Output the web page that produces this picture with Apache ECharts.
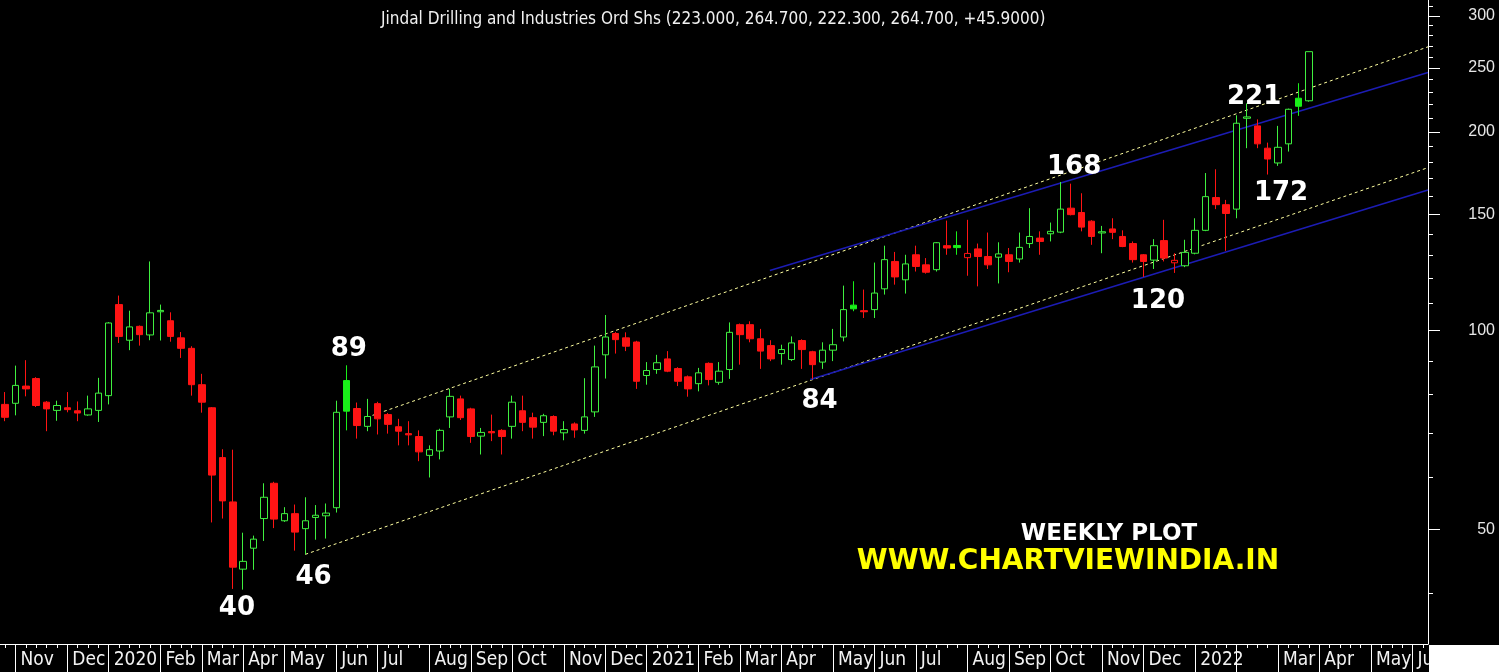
<!DOCTYPE html>
<html>
<head>
<meta charset="utf-8">
<script src="https://cdn.jsdelivr.net/npm/echarts@6/dist/echarts.min.js"></script>
<style>
  html, body { margin: 0; padding: 0; background: #000; }
  #chart { width: 1499px; height: 672px; }
</style>
</head>
<body>
<div id="chart"></div>
<script>
// ---- Data (weekly candles, Fridays) ----
const dates = [
 '2019-10-25','2019-11-01','2019-11-08','2019-11-15','2019-11-22','2019-11-29','2019-12-06','2019-12-13','2019-12-20','2019-12-27',
 '2020-01-03','2020-01-10','2020-01-17','2020-01-24','2020-01-31','2020-02-07','2020-02-14','2020-02-21','2020-02-28','2020-03-06',
 '2020-03-13','2020-03-20','2020-03-27','2020-04-03','2020-04-10','2020-04-17','2020-04-24','2020-05-01','2020-05-08','2020-05-15',
 '2020-05-22','2020-05-29','2020-06-05','2020-06-12','2020-06-19','2020-06-26','2020-07-03','2020-07-10','2020-07-17','2020-07-24',
 '2020-07-31','2020-08-07','2020-08-14','2020-08-21','2020-08-28','2020-09-04','2020-09-11','2020-09-18','2020-09-25','2020-10-02',
 '2020-10-09','2020-10-16','2020-10-23','2020-10-30','2020-11-06','2020-11-13','2020-11-20','2020-11-27','2020-12-04','2020-12-11',
 '2020-12-18','2020-12-25','2021-01-01','2021-01-08','2021-01-15','2021-01-22','2021-01-29','2021-02-05','2021-02-12','2021-02-19',
 '2021-02-26','2021-03-05','2021-03-12','2021-03-19','2021-03-26','2021-04-02','2021-04-09','2021-04-16','2021-04-23','2021-04-30',
 '2021-05-07','2021-05-14','2021-05-21','2021-05-28','2021-06-04','2021-06-11','2021-06-18','2021-06-25','2021-07-02','2021-07-09',
 '2021-07-16','2021-07-23','2021-07-30','2021-08-06','2021-08-13','2021-08-20','2021-08-27','2021-09-03','2021-09-10','2021-09-17',
 '2021-09-24','2021-10-01','2021-10-08','2021-10-15','2021-10-22','2021-10-29','2021-11-05','2021-11-12','2021-11-19','2021-11-26',
 '2021-12-03','2021-12-10','2021-12-17','2021-12-24','2021-12-31','2022-01-07','2022-01-14','2022-01-21','2022-01-28','2022-02-04',
 '2022-02-11','2022-02-18','2022-02-25','2022-03-04','2022-03-11','2022-03-18','2022-03-25','2022-04-01','2022-04-08','2022-04-15',
 '2022-04-22','2022-04-29','2022-05-06','2022-05-13','2022-05-20','2022-05-27','2022-06-03','2022-06-10'
];

const opens = [
 77.3,77.6,82.4,84.6,77.9,75.7,76.4,75.6,74.5,75.7,
 79.7,109.5,96.7,101.5,98.5,106.8,103.5,97.5,94.0,82.8,
 76.4,64.2,55.0,43.5,46.8,51.9,58.7,51.5,52.8,50.1,
 52.1,52.4,53.9,84.0,76.2,71.6,77.5,74.6,71.5,69.8,
 69.1,64.7,65.7,74.0,78.8,76.1,69.2,70.3,70.6,71.6,
 75.6,73.8,72.6,74.1,70.0,72.2,70.6,75.3,91.9,99.0,
 97.5,96.1,85.5,87.3,90.6,87.6,85.1,83.1,89.2,83.5,
 87.3,102.1,102.1,97.2,94.9,92.3,90.4,96.6,92.9,89.6,
 93.4,97.8,109.3,107.2,107.6,115.7,127.3,119.4,130.3,125.8,
 123.7,134.5,134.6,129.0,133.0,129.5,129.2,130.3,128.4,135.5,
 138.1,140.2,141.0,153.3,151.0,146.5,140.6,142.6,138.9,135.5,
 130.3,127.9,136.9,126.7,125.4,131.0,141.9,159.1,155.2,152.8,
 209.8,204.3,189.0,179.5,191.9,225.0,223.0
];
const highs = [
 80.7,88.5,90.2,85.0,78.2,78.3,80.7,78.1,79.7,84.8,
 103.0,113.0,107.2,101.8,127.3,109.5,106.6,99.5,94.7,86.0,
 76.6,66.1,66.0,49.4,48.9,58.7,59.0,54.0,54.5,55.9,
 54.4,54.7,78.3,88.6,77.8,78.8,78.0,75.0,73.5,72.9,
 70.6,67.0,71.0,81.6,79.7,76.4,71.2,74.6,70.9,79.7,
 79.7,75.1,74.8,74.4,72.9,72.6,84.7,94.9,105.6,99.5,
 99.4,96.5,89.6,91.9,93.1,88.0,85.5,87.8,89.5,89.6,
 102.9,102.5,103.3,100.6,96.7,95.2,98.0,97.0,93.2,96.0,
 100.6,117.0,118.8,115.4,126.8,134.5,131.6,130.3,134.5,128.8,
 136.2,146.8,141.4,147.2,135.5,140.8,136.1,133.4,140.8,153.3,
 141.4,145.8,168.0,167.0,161.5,147.0,144.1,148.0,141.9,136.5,
 130.6,137.6,147.2,131.0,137.3,148.0,173.3,175.6,157.8,212.0,
 221.0,209.0,192.7,204.3,217.0,237.1,264.7
];
const lows = [
 72.9,74.4,79.5,76.6,70.4,73.0,75.2,72.9,74.3,72.7,
 77.3,95.8,93.4,94.9,96.7,96.6,96.2,90.9,79.7,75.1,
 51.2,51.9,40.6,40.5,43.4,48.0,50.2,51.3,46.4,45.8,
 48.2,48.4,53.0,70.6,68.6,70.4,69.6,69.8,67.0,67.0,
 63.4,59.9,63.8,71.2,73.2,67.6,64.9,68.0,64.9,68.6,
 70.4,68.6,69.2,69.4,68.2,68.8,69.8,74.0,84.6,92.3,
 93.1,81.6,82.8,86.0,86.5,82.4,79.4,80.9,82.6,82.8,
 84.5,88.8,96.0,87.5,89.9,88.8,89.9,87.5,84.5,87.5,
 89.9,96.3,107.0,104.5,104.5,113.4,117.4,113.8,122.9,122.0,
 122.9,130.3,130.3,121.1,116.7,124.0,117.9,122.6,126.8,133.4,
 130.3,136.5,140.5,149.5,141.4,134.9,131.0,137.6,133.8,126.8,
 120.6,124.0,127.3,122.3,124.8,130.5,141.5,152.8,132.1,148.0,
 189.0,189.0,172.4,177.7,186.8,211.6,222.3
];
const closes = [
 73.9,82.6,81.6,77.0,76.1,77.0,75.9,75.0,76.1,80.4,
 102.7,98.0,101.3,98.6,106.4,107.3,98.0,94.0,82.8,77.9,
 60.4,55.2,43.8,44.7,48.3,55.9,51.8,52.8,49.5,51.5,
 52.5,52.9,75.2,75.5,71.8,74.1,73.5,72.1,70.4,69.5,
 65.5,66.0,70.6,79.5,73.8,69.1,70.1,70.0,69.1,77.9,
 72.6,71.4,74.3,70.4,70.8,70.7,74.0,88.1,97.8,96.9,
 94.7,83.8,87.0,89.4,86.8,83.8,81.6,86.3,84.3,86.8,
 99.4,98.6,97.2,93.1,90.6,93.6,95.8,93.6,88.8,93.4,
 95.2,107.6,107.9,106.8,114.0,128.1,120.6,126.2,125.1,122.6,
 135.9,133.4,133.6,130.9,129.5,125.8,130.7,127.3,133.7,138.9,
 136.5,141.4,152.8,149.9,143.5,138.9,141.2,140.9,134.1,128.1,
 127.3,134.5,128.8,127.8,131.4,141.9,159.6,155.2,150.5,206.2,
 210.8,191.9,182.0,189.6,216.5,218.8,264.7
];

// Channel lines: [week index, price] start / end
const upperDotted = [[35.5, 74.4], [137.5, 269.2]];
const upperBlue   = [[73.9, 123.3], [137.5, 246.1]];
const lowerDotted = [[29.0, 45.8], [137.5, 176.6]];
const lowerBlue   = [[77.8, 84.3], [137.5, 163.4]];

// Price annotations: [week index, price, text]
const notes = [
 [33.2, 93.6, '89'], [29.8, 42.3, '46'], [22.4, 38.0, '40'], [78.7, 78.1, '84'],
 [103.3, 177.1, '168'], [111.4, 110.6, '120'], [120.7, 226.0, '221'], [123.3, 161.3, '172']
];

const majorTicks = [50, 100, 150, 200, 250, 300];
const minorTicks = [40, 60, 70, 80, 90, 110, 120, 130, 140, 160, 170, 180, 190,
                    210, 220, 230, 240, 260, 270, 280, 290, 310];
const monthNames = ['Jan','Feb','Mar','Apr','May','Jun','Jul','Aug','Sep','Oct','Nov','Dec'];
const hiddenMonthLabels = ['2022-02-04'];

const titleText = 'Jindal Drilling and Industries Ord Shs (223.000, 264.700, 222.300, 264.700, +45.9000)';
const yMin = 33.5, yMax = 317;

// ---- Build ----
const L = v => Math.log10(v);
const GREEN = '#3ff03f', GREEN_FILL = '#19f019', RED = '#ff1414';

function isMonthStart(i) {
  if (i <= 0) return false;
  return dates[i].slice(0, 7) !== dates[i - 1].slice(0, 7);
}
function monthLabel(i) {
  const m = parseInt(dates[i].slice(5, 7), 10);
  return m === 1 ? dates[i].slice(0, 4) : monthNames[m - 1];
}

const candleData = opens.map((o, i) => {
  const c = closes[i];
  const prev = i > 0 ? closes[i - 1] : Infinity;
  const col = c > prev ? GREEN : RED;
  const hollow = c > o;
  const fill = hollow ? '#000' : (col === GREEN ? GREEN_FILL : RED);
  const border = (!hollow && col === GREEN) ? GREEN_FILL : col;
  return {
    value: [L(o), L(c), L(lows[i]), L(highs[i])],
    itemStyle: { color: fill, color0: fill, borderColor: border, borderColor0: border, borderColorDoji: border }
  };
});

const lineSeries = (pts, color, type, width) => ({
  type: 'line', xAxisIndex: 2, yAxisIndex: 0,
  data: pts.map(p => [p[0], L(p[1])]),
  symbol: 'none', silent: true, clip: true,
  lineStyle: { color: color, width: width, type: type },
  z: 1
});

const chart = echarts.init(document.getElementById('chart'), null, { renderer: 'canvas' });
const axisFont = "'Liberation Sans Narrow', 'DejaVu Sans Condensed', 'Arial Narrow', sans-serif";
const G = { left: 0, right: 71, top: 0, bottom: 28, containLabel: false };

chart.setOption({
  animation: false,
  backgroundColor: '#000',
  title: {
    text: titleText, left: 376, top: 6,
    textStyle: { color: '#f0f0f0', fontFamily: axisFont, fontSize: 17, fontWeight: 'normal' }
  },
  grid: [Object.assign({}, G), Object.assign({}, G)],
  xAxis: [
    {
      type: 'category', data: dates, boundaryGap: true, position: 'bottom', gridIndex: 0,
      axisLine: { show: true, onZero: false, lineStyle: { color: '#fff', width: 1 } },
      axisTick: { show: true, alignWithLabel: true, inside: false, length: 28,
                  interval: (i) => isMonthStart(i), lineStyle: { color: '#fff', width: 1 } },
      axisLabel: {
        show: true, interval: (i) => isMonthStart(i) && hiddenMonthLabels.indexOf(dates[i]) < 0,
        formatter: (v, i) => monthLabel(i),
        color: '#f2f2f2', fontFamily: axisFont, fontSize: 19,
        align: 'left', verticalAlign: 'middle', margin: 16, padding: [0, 0, 0, 5]
      },
      splitLine: { show: false }
    },
    {
      type: 'category', data: dates, boundaryGap: true, position: 'bottom', gridIndex: 1,
      axisLine: { show: false, onZero: false },
      axisTick: { show: true, alignWithLabel: true, length: 4, interval: 0,
                  lineStyle: { color: '#fff', width: 1 } },
      axisLabel: { show: false }, splitLine: { show: false }
    },
    { type: 'value', min: -0.5, max: dates.length - 0.5, show: false, gridIndex: 0, position: 'top',
      axisLine: { onZero: false } }
  ],
  yAxis: [
    {
      type: 'value', position: 'right', gridIndex: 0, min: L(yMin), max: L(yMax), scale: true,
      axisLine: { show: true, onZero: false, lineStyle: { color: '#fff', width: 1 } },
      axisTick: { show: true, inside: false, length: 12, customValues: majorTicks.map(L),
                  lineStyle: { color: '#fff' } },
      axisLabel: {
        show: true, customValues: majorTicks.map(L),
        formatter: v => String(Math.round(Math.pow(10, v))),
        color: '#e6e6e6', fontFamily: "'Liberation Sans', Arial, sans-serif", fontSize: 16,
        align: 'right', margin: 67
      },
      splitLine: { show: false }
    },
    {
      type: 'value', position: 'right', gridIndex: 1, min: L(yMin), max: L(yMax), scale: true,
      axisLine: { show: false, onZero: false },
      axisTick: { show: true, inside: false, length: 5, customValues: minorTicks.map(L),
                  lineStyle: { color: '#fff' } },
      axisLabel: { show: false }, splitLine: { show: false }
    }
  ],
  series: [
    lineSeries(upperDotted, '#ffffa0', [3, 3], 1),
    lineSeries(lowerDotted, '#ffffa0', [3, 3], 1),
    lineSeries(upperBlue, '#1c1cb4', 'solid', 1.6),
    lineSeries(lowerBlue, '#1c1cb4', 'solid', 1.6),
    {
      type: 'candlestick', xAxisIndex: 0, yAxisIndex: 0,
      data: candleData, barWidth: 7, z: 3,
      itemStyle: { borderWidth: 1 }
    },
    {
      type: 'scatter', xAxisIndex: 2, yAxisIndex: 0, symbolSize: 0, silent: true, z: 5,
      itemStyle: { opacity: 1 },
      data: notes.map(n => ({ value: [n[0], L(n[1])], name: n[2] })),
      label: {
        show: true, position: 'inside', formatter: p => p.name, opacity: 1,
        color: '#ffffff', textBorderWidth: 0,
        fontFamily: "'DejaVu Sans', sans-serif", fontWeight: 'bold', fontSize: 26
      }
    }
  ],
  graphic: [
    { type: 'rect', left: 1429, top: 645, shape: { width: 70, height: 27 }, style: { fill: '#fff' }, z: 10 },
    { type: 'text', x: 1109, y: 534, z: 10,
      style: { text: 'WEEKLY PLOT', fill: '#fff', font: "bold 23px 'DejaVu Sans', sans-serif",
               textAlign: 'center', textVerticalAlign: 'middle' } },
    { type: 'text', x: 1068, y: 562, z: 10,
      style: { text: 'WWW.CHARTVIEWINDIA.IN', fill: '#ffff00', font: "bold 28px 'DejaVu Sans', sans-serif",
               textAlign: 'center', textVerticalAlign: 'middle' } }
  ]
});
</script>
</body>
</html>
